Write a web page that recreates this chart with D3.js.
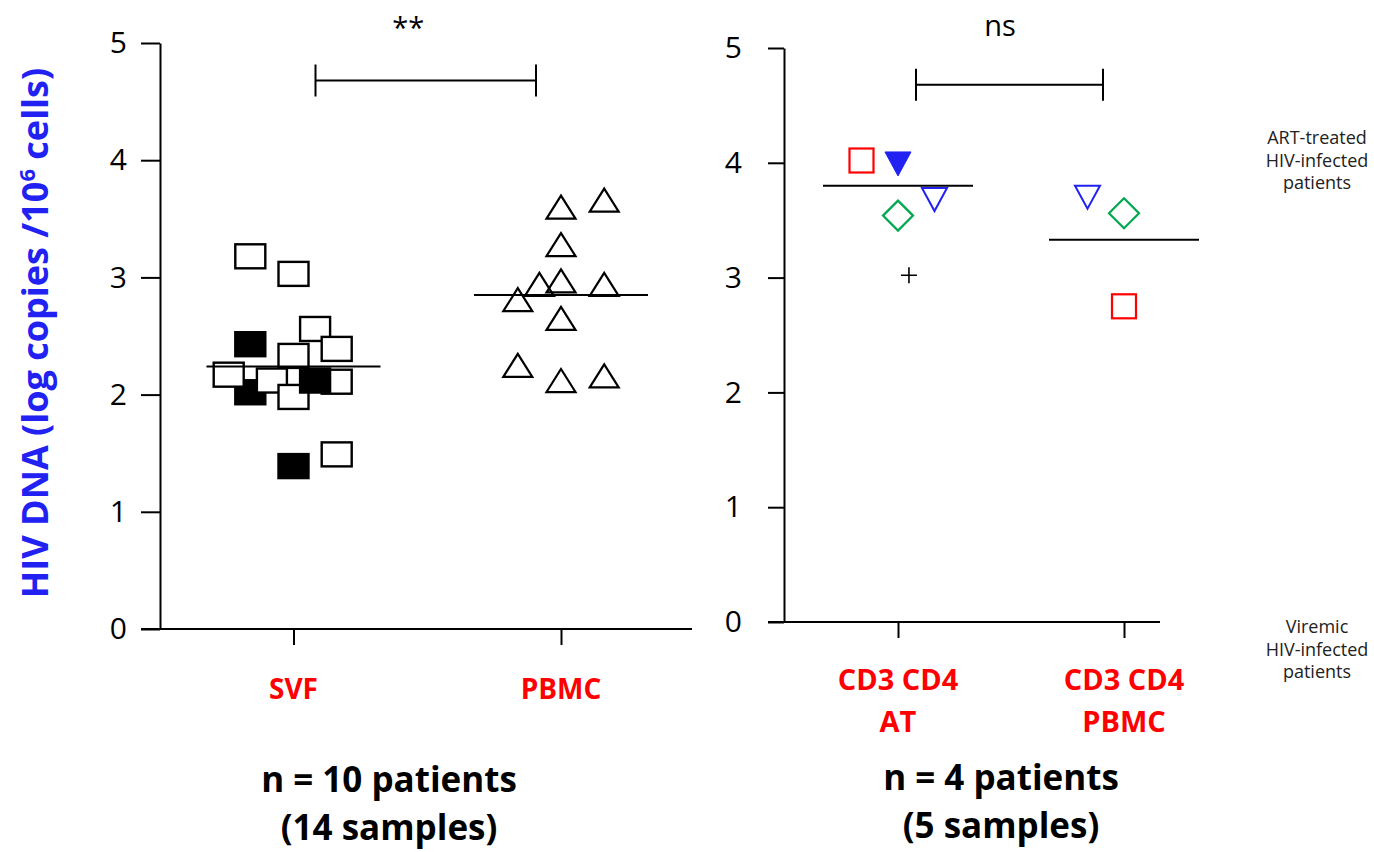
<!DOCTYPE html>
<html>
<head>
<meta charset="utf-8">
<script src="https://cdn.jsdelivr.net/npm/d3@7"></script>
<style>
  body { margin: 0; background: #fff; }
  svg text { font-family: "Open Sans", Lato, sans-serif; }
</style>
</head>
<body>
<svg id="chart" width="1374" height="852"></svg>
<script>
// ---- data ----
const yTicks = [0, 1, 2, 3, 4, 5];

// Left panel: SVF vs PBMC (log copies / 10^6 cells)
const leftCategories = ["SVF", "PBMC"];
const svfValues = [3.18, 3.03, 2.43, 2.56, 2.39, 2.33, 2.02, 2.17, 2.12, 1.98, 2.11, 2.12, 1.49, 1.39];
const svfFilled = [false, false, true, false, false, false, true, false, false, false, false, true, false, true];
const svfJitter = [-2, 0, -2, 1, 2, 0, -2, -3, -1, 0, 2, 1, 2, 0];
const pbmcValues = [3.60, 3.66, 3.28, 2.94, 2.97, 2.94, 2.81, 2.65, 2.25, 2.12, 2.16];
const pbmcJitter = [0, 2, 0, -1, 0, 2, -2, 0, -2, 0, 2];
const leftMeans = [2.24, 2.85];
const leftSignificance = "**";

// Right panel: sorted CD3+CD4+ T cells, adipose tissue vs blood
const rightCategories = [["CD3 CD4", "AT"], ["CD3 CD4", "PBMC"]];
const atValues = [4.02, 3.99, 3.68, 3.54, 3.02];
const atMarkers = ["squareRed", "triDownFilled", "triDownOpen", "diamond", "plus"];
const atJitter = [-1, 0, 1, 0, 0.3];
const pbmcRValues = [3.70, 3.56, 2.75];
const pbmcRMarkers = ["triDownOpen", "diamond", "squareRed"];
const pbmcRJitter = [-1, 0, 0];
const rightMeans = [3.80, 3.33];
const rightSignificance = "ns";
const bracketLevel = 4.68;

const yTitle = ["HIV DNA (log copies /10", "6", " cells)"];
const leftFooter = ["n = 10 patients", "(14 samples)"];
const rightFooter = ["n = 4 patients", "(5 samples)"];
const artNote = ["ART-treated", "HIV-infected", "patients"];
const viremicNote = ["Viremic", "HIV-infected", "patients"];

// ---- styling ----
const RED = "#ff0000", BLUE = "#2121f2", GREEN = "#00a84f";
const AXIS_W = 2;

const svg = d3.select("#chart");

// ---- scales ----
const yL = d3.scaleLinear().domain([0, 5]).range([629, 43]);
const xL = d3.scalePoint().domain(leftCategories).range([293.5, 561]);
const yR = d3.scaleLinear().domain([0, 5]).range([622, 48]);
const xR = d3.scalePoint().domain(rightCategories.map(d => d.join(" "))).range([898, 1124]);

// ---- axes helper ----
function drawYAxis(y, x0, tickLen, pad) {
  const g = svg.append("g").attr("transform", `translate(${x0},0)`)
    .call(d3.axisLeft(y).tickValues(yTicks).tickFormat(d3.format("d"))
      .tickSize(tickLen).tickSizeOuter(0).tickPadding(pad));
  g.selectAll("path.domain").attr("stroke", "#000").attr("stroke-width", AXIS_W);
  g.selectAll(".tick line").attr("stroke", "#000").attr("stroke-width", AXIS_W);
  g.selectAll(".tick text").attr("font-size", 30).attr("fill", "#000")
    .style("font-family", "'Open Sans', Lato, sans-serif");
}
function drawXAxis(x, y0, xStart, xEnd) {
  const g = svg.append("g").attr("transform", `translate(0,${y0})`)
    .call(d3.axisBottom(x).tickFormat("").tickSize(16).tickSizeOuter(0));
  g.select("path.domain").remove();
  g.selectAll(".tick line").attr("stroke", "#000").attr("stroke-width", AXIS_W);
  svg.append("line").attr("x1", xStart).attr("x2", xEnd)
    .attr("y1", y0).attr("y2", y0).attr("stroke", "#000").attr("stroke-width", AXIS_W);
}

drawYAxis(yL, 160, 19, 14);
drawXAxis(xL, yL(0), 141, 692);
drawYAxis(yR, 784, 16, 26);
drawXAxis(xR, yR(0), 768, 1160);

// ---- marker shapes ----
function triPath(w, h, down) {
  return down
    ? `M${-w / 2},${-h / 2}L${w / 2},${-h / 2}L0,${h / 2}Z`
    : `M0,${-h / 2}L${w / 2},${h / 2}L${-w / 2},${h / 2}Z`;
}
function drawMarker(g, type, cx, cy) {
  const m = g.append("g").attr("transform", `translate(${cx},${cy})`);
  switch (type) {
    case "squareOpen":
    case "squareFilled":
      m.append("rect").attr("x", -15).attr("y", -12).attr("width", 30).attr("height", 24)
        .attr("fill", type === "squareFilled" ? "#000" : "#fff")
        .attr("stroke", "#000").attr("stroke-width", 2.4);
      break;
    case "triUp":
      m.append("path").attr("d", triPath(29, 23, false))
        .attr("fill", "none").attr("stroke", "#000").attr("stroke-width", 2.2)
        .attr("stroke-linejoin", "miter");
      break;
    case "squareRed":
      m.append("rect").attr("x", -12).attr("y", -12).attr("width", 24).attr("height", 24)
        .attr("fill", "none").attr("stroke", RED).attr("stroke-width", 2.2);
      break;
    case "triDownFilled":
      m.append("path").attr("d", triPath(26, 24, true))
        .attr("fill", BLUE).attr("stroke", BLUE).attr("stroke-width", 1);
      break;
    case "triDownOpen":
      m.append("path").attr("d", triPath(25, 23, true))
        .attr("fill", "none").attr("stroke", BLUE).attr("stroke-width", 2);
      break;
    case "diamond":
      m.append("path").attr("d", "M0,-15L15,0L0,15L-15,0Z")
        .attr("fill", "none").attr("stroke", GREEN).attr("stroke-width", 2.2);
      break;
    case "plus":
      m.append("path").attr("d", "M-8,0H8M0,-8V8")
        .attr("fill", "none").attr("stroke", "#000").attr("stroke-width", 1.6);
      break;
  }
}

// ---- left panel points ----
const JL = 21.6;
const gL = svg.append("g");
svfValues.forEach((v, i) =>
  drawMarker(gL, svfFilled[i] ? "squareFilled" : "squareOpen", xL("SVF") + svfJitter[i] * JL, yL(v)));
pbmcValues.forEach((v, i) =>
  drawMarker(gL, "triUp", xL("PBMC") + pbmcJitter[i] * JL, yL(v)));

leftCategories.forEach((c, i) => {
  svg.append("line").attr("x1", xL(c) - 87).attr("x2", xL(c) + 87)
    .attr("y1", yL(leftMeans[i])).attr("y2", yL(leftMeans[i]))
    .attr("stroke", "#000").attr("stroke-width", 2);
});

// ---- right panel points ----
const JR = 36.5;
const gR = svg.append("g");
const rk = xR.domain();
atValues.forEach((v, i) => drawMarker(gR, atMarkers[i], xR(rk[0]) + atJitter[i] * JR, yR(v)));
pbmcRValues.forEach((v, i) => drawMarker(gR, pbmcRMarkers[i], xR(rk[1]) + pbmcRJitter[i] * JR, yR(v)));

rk.forEach((c, i) => {
  svg.append("line").attr("x1", xR(c) - 75).attr("x2", xR(c) + 75)
    .attr("y1", yR(rightMeans[i])).attr("y2", yR(rightMeans[i]))
    .attr("stroke", "#000").attr("stroke-width", 2);
});

// ---- significance brackets ----
function bracket(x1, x2, y, label, labelX, labelY) {
  const g = svg.append("g").attr("stroke", "#000").attr("stroke-width", 2).attr("fill", "none");
  g.append("path").attr("d", `M${x1},${y - 16}V${y + 16}M${x1},${y}H${x2}M${x2},${y - 16}V${y + 16}`);
  svg.append("text").attr("x", labelX).attr("y", labelY)
    .attr("text-anchor", "middle").attr("font-size", 29).attr("fill", "#000").text(label);
}
bracket(xL("SVF") + 22, xL("PBMC") - 25, yL(bracketLevel), leftSignificance,
  (xL("SVF") + xL("PBMC")) / 2 - 19, 38);
bracket(xR(rk[0]) + 18, xR(rk[1]) - 21, yR(bracketLevel), rightSignificance,
  (xR(rk[0]) + xR(rk[1])) / 2 - 11, 36);

// ---- category labels ----
leftCategories.forEach(c => {
  svg.append("text").attr("x", xL(c)).attr("y", 699).attr("text-anchor", "middle")
    .attr("font-size", 28).attr("font-weight", 700).attr("fill", RED).text(c);
});
rightCategories.forEach((lines, i) => {
  const t = svg.append("text").attr("x", xR(rk[i])).attr("y", 690).attr("text-anchor", "middle")
    .attr("font-size", 29).attr("font-weight", 700).attr("fill", RED);
  lines.forEach((s, j) => t.append("tspan").attr("x", xR(rk[i])).attr("dy", j ? 42 : 0).text(s));
});

// ---- y axis title ----
const yt = svg.append("text").attr("transform", "translate(48,333) rotate(-90)")
  .attr("text-anchor", "middle").attr("font-size", 36).attr("font-weight", 700).attr("fill", BLUE);
yt.append("tspan").text(yTitle[0]);
yt.append("tspan").attr("dy", -13).attr("font-size", 22).text(yTitle[1]);
yt.append("tspan").attr("dy", 13).text(yTitle[2]);

// ---- footers ----
function footer(lines, cx, y0) {
  const t = svg.append("text").attr("text-anchor", "middle").attr("font-size", 35)
    .attr("font-weight", 700).attr("fill", "#000");
  lines.forEach((s, j) => t.append("tspan").attr("x", cx).attr("y", y0 + j * 48).text(s));
}
footer(leftFooter, 389, 792);
footer(rightFooter, 1001, 790);

// ---- patient-group notes ----
function note(lines, cx, y0) {
  const t = svg.append("text").attr("text-anchor", "middle").attr("font-size", 18).attr("fill", "#222");
  lines.forEach((s, j) => t.append("tspan").attr("x", cx).attr("y", y0 + j * 22.5).text(s));
}
note(artNote, 1317, 144);
note(viremicNote, 1317, 633);
</script>
</body>
</html>
